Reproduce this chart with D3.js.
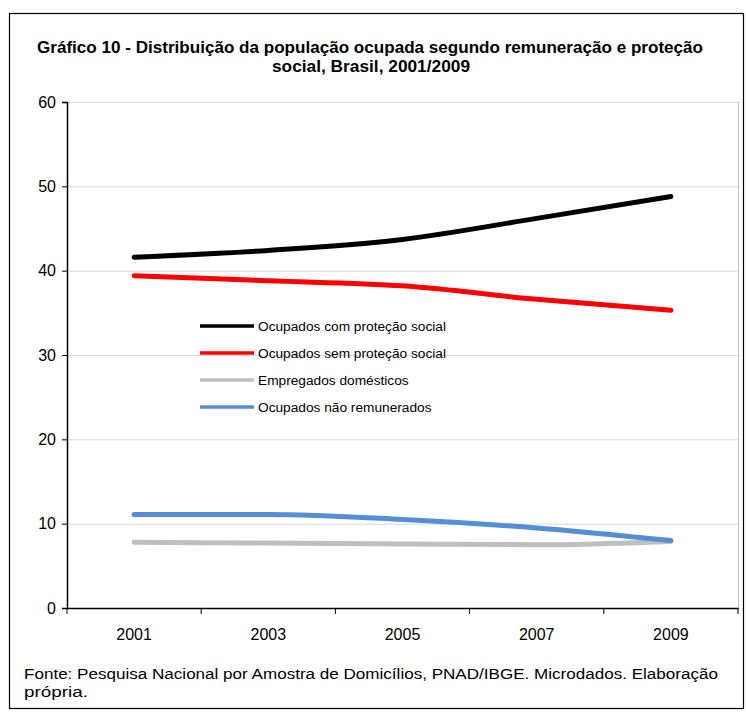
<!DOCTYPE html>
<html>
<head>
<meta charset="utf-8">
<script src="https://cdn.jsdelivr.net/npm/d3@7"></script>
<style>
  body { margin: 0; background: #fff; }
  svg { display: block; font-family: "Liberation Sans", Arial, sans-serif; }
</style>
</head>
<body>
<svg id="chart" width="746" height="720"></svg>
<script>
// Distribuição da população ocupada (%), Brasil 2001/2009
const years = ["2001", "2003", "2005", "2007", "2009"];
const comProtecao = [41.6, 42.4, 43.7, 46.2, 48.8];
const semProtecao = [39.4, 38.8, 38.2, 36.6, 35.3];
const domesticos = [7.8, 7.7, 7.6, 7.5, 7.9];
const naoRemunerados = [11.1, 11.1, 10.5, 9.5, 8.0];
const yTicks = [0, 10, 20, 30, 40, 50, 60];

const series = [
  { name: "Ocupados com proteção social", values: comProtecao, color: "#000000" },
  { name: "Ocupados sem proteção social", values: semProtecao, color: "#ff0000" },
  { name: "Empregados domésticos", values: domesticos, color: "#bfbfbf" },
  { name: "Ocupados não remunerados", values: naoRemunerados, color: "#558ed5" }
];

const svg = d3.select("#chart");
const plot = { left: 67, right: 738, top: 102, bottom: 608 };

// outer frame
svg.append("rect")
  .attr("x", 9.5).attr("y", 13.5)
  .attr("width", 734).attr("height", 695)
  .attr("fill", "none").attr("stroke", "#000").attr("stroke-width", 1.2);

// title
const title = svg.append("text")
  .attr("text-anchor", "middle")
  .attr("font-weight", "bold")
  .attr("font-size", 17);
title.append("tspan").attr("x", 370).attr("y", 53)
  .attr("textLength", 666).attr("lengthAdjust", "spacingAndGlyphs")
  .text("Gráfico 10 - Distribuição da população ocupada segundo remuneração e proteção");
title.append("tspan").attr("x", 371).attr("y", 72)
  .attr("textLength", 198).attr("lengthAdjust", "spacingAndGlyphs")
  .text("social,  Brasil, 2001/2009");

const x = d3.scaleBand().domain(years).range([plot.left, plot.right]);
const y = d3.scaleLinear().domain([0, 60]).range([plot.bottom, plot.top]);

// gridlines
svg.append("g")
  .selectAll("line")
  .data(yTicks.filter(d => d > 0))
  .join("line")
  .attr("x1", plot.left).attr("x2", plot.right)
  .attr("y1", d => y(d) + 0.5).attr("y2", d => y(d) + 0.5)
  .attr("stroke", "#d9d9d9").attr("stroke-width", 1);

// right edge of plot area
svg.append("line")
  .attr("x1", plot.right + 0.5).attr("x2", plot.right + 0.5)
  .attr("y1", plot.top).attr("y2", plot.bottom)
  .attr("stroke", "#bfbfbf");

// y axis
const yAxis = svg.append("g")
  .attr("transform", `translate(${plot.left},0)`)
  .call(d3.axisLeft(y).tickValues(yTicks).tickSize(5).tickPadding(6));
yAxis.select(".domain").attr("stroke", "#000").attr("stroke-width", 1.5);
yAxis.selectAll(".tick line").attr("stroke", "#000");
yAxis.selectAll("text").attr("font-size", 16).attr("fill", "#000")
  .attr("font-family", "Liberation Sans, Arial, sans-serif");

// x axis: ticks on category boundaries
const xAxis = svg.append("g")
  .attr("transform", `translate(0,${plot.bottom})`)
  .call(d3.axisBottom(x).tickSize(0).tickPadding(21).tickSizeOuter(0));
xAxis.select(".domain").attr("stroke", "#000").attr("stroke-width", 1.5);
xAxis.selectAll("text").attr("font-size", 16).attr("fill", "#000")
  .attr("font-family", "Liberation Sans, Arial, sans-serif");
const boundaries = years.map(d => x(d)).concat([x(years[years.length - 1]) + x.bandwidth()]);
xAxis.selectAll(".bound")
  .data(boundaries)
  .join("line")
  .attr("class", "bound")
  .attr("x1", d => d).attr("x2", d => d)
  .attr("y1", 0).attr("y2", 6)
  .attr("stroke", "#000");

// series lines
const line = d3.line()
  .x((d, i) => x(years[i]) + x.bandwidth() / 2)
  .y(d => y(d))
  .curve(d3.curveMonotoneX);

svg.append("g")
  .selectAll("path")
  .data(series)
  .join("path")
  .attr("d", d => line(d.values))
  .attr("fill", "none")
  .attr("stroke", d => d.color)
  .attr("stroke-width", 5)
  .attr("stroke-linecap", "round")
  .attr("stroke-linejoin", "round");

// legend
const legend = svg.append("g").attr("transform", "translate(200,326)");
const item = legend.selectAll("g")
  .data(series)
  .join("g")
  .attr("transform", (d, i) => `translate(0,${i * 27})`);
item.append("line")
  .attr("x1", 0).attr("x2", 54)
  .attr("stroke", d => d.color).attr("stroke-width", 3.5);
item.append("text")
  .attr("x", 58).attr("dy", "0.35em")
  .attr("font-size", 13.7)
  .text(d => d.name);

// source note
const note = svg.append("text").attr("font-size", 15.5);
note.append("tspan").attr("x", 24).attr("y", 679)
  .attr("textLength", 694).attr("lengthAdjust", "spacingAndGlyphs")
  .text("Fonte: Pesquisa Nacional por Amostra de Domicílios, PNAD/IBGE. Microdados. Elaboração");
note.append("tspan").attr("x", 24).attr("y", 697)
  .attr("textLength", 64).attr("lengthAdjust", "spacingAndGlyphs")
  .text("própria.");
</script>
</body>
</html>
